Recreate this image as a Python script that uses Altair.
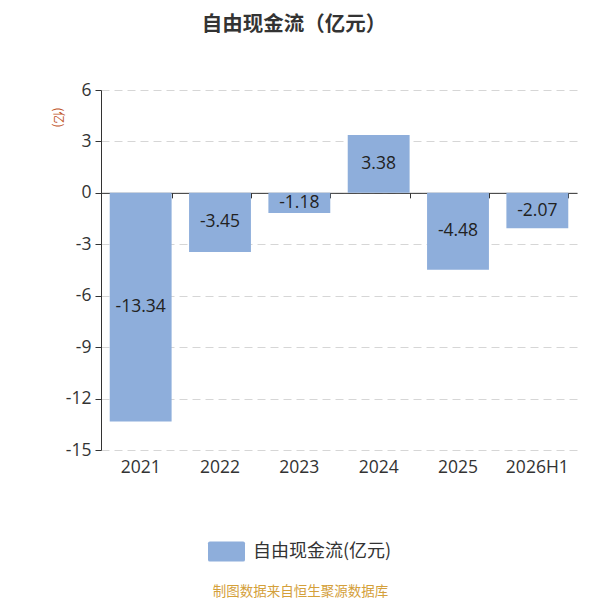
import altair as alt
import pandas as pd

years = ["2021", "2022", "2023", "2024", "2025", "2026H1"]
values = [-13.34, -3.45, -1.18, 3.38, -4.48, -2.07]
labels = ["-13.34", "-3.45", "-1.18", "3.38", "-4.48", "-2.07"]
series_name = "自由现金流(亿元)"
y_ticks = [-15, -12, -9, -6, -3, 0, 3, 6]

df = pd.DataFrame({"year": years, "value": values, "label": labels})
df["series"] = series_name

W, H = 476, 360
LOW, HIGH = -15, 6
zero_offset = -(H * (0 - LOW) / (HIGH - LOW))

NUM_FONT = "Open Sans"
CJK_FONT = "Noto Sans CJK SC"

xscale = alt.Scale(domain=years, paddingInner=0.22, paddingOuter=0.11)
yscale = alt.Scale(domain=[LOW, HIGH], nice=False, zero=False)

yaxis = alt.Axis(
    values=y_ticks, labelExpr="toString(datum.value)",
    title="(亿)", titleAngle=90, titleX=-44, titleY=27,
    titleAlign="center", titleBaseline="middle", titleColor="#c0552a",
    titleFont=CJK_FONT, titleFontSize=12, titleFontWeight="normal",
    labelFont=NUM_FONT, labelFontSize=17.5, labelColor="#333", labelPadding=4,
    domainColor="#333", tickColor="#333", tickSize=6,
    grid=True, gridColor="#d6d6d6", gridDash=[8, 5], gridWidth=1,
)

bars = alt.Chart(df).mark_bar().encode(
    x=alt.X("year:N", scale=xscale, sort=years, axis=alt.Axis(
        orient="bottom", domain=False, ticks=False, labelAngle=0,
        labelFont=NUM_FONT, labelFontSize=17.5, labelColor="#333", labelPadding=8,
        title="制图数据来自恒生聚源数据库", titleFont=CJK_FONT, titleFontSize=13.5,
        titleFontWeight="normal", titleColor="#d4a03a", titleX=199, titleY=141,
        titleAlign="center", titleBaseline="middle",
    )),
    y=alt.Y("value:Q", scale=yscale, axis=yaxis),
    color=alt.Color("series:N", scale=alt.Scale(range=["#8eaedb"]), legend=alt.Legend(
        title=None, orient="none", legendX=107, legendY=443,
        symbolType="M-0.9,-0.54 L0.9,-0.54 Q1,-0.54 1,-0.44 L1,0.44 Q1,0.54 0.9,0.54 L-0.9,0.54 Q-1,0.54 -1,0.44 L-1,-0.44 Q-1,-0.54 -0.9,-0.54 Z",
        symbolSize=1369, symbolStrokeWidth=0, symbolOpacity=1,
        labelFont=CJK_FONT, labelFontSize=18, labelColor="#333", labelOffset=8,
    )),
)

texts = alt.Chart(df).transform_calculate(mid="datum.value / 2").mark_text(
    font=NUM_FONT, fontSize=17.5, color="#222", baseline="middle", align="center"
).encode(
    x=alt.X("year:N", scale=xscale, sort=years, axis=alt.Axis(
        orient="bottom", offset=zero_offset, labels=False, ticks=True,
        tickBand="extent", tickSize=5, tickColor="#333", domain=True,
        domainColor="#333", domainWidth=1, title=None, grid=False,
    )),
    y=alt.Y("mid:Q", scale=yscale, axis=yaxis),
    text="label:N",
)

chart = alt.layer(bars, texts).resolve_axis(x="independent").properties(
    width=W, height=H,
    autosize=alt.AutoSizeParams(type="none"),
    padding={"left": 93, "top": 82, "right": 15, "bottom": 148},
    title=alt.TitleParams(
        "自由现金流（亿元）", font=CJK_FONT, fontSize=20.5, fontWeight="bold",
        color="#333", anchor="middle", dx=-45, offset=46,
    ),
).configure_view(stroke=None).configure_axis(domainWidth=1)

chart.save("out.html", embed_options={"renderer": "svg", "actions": False})
